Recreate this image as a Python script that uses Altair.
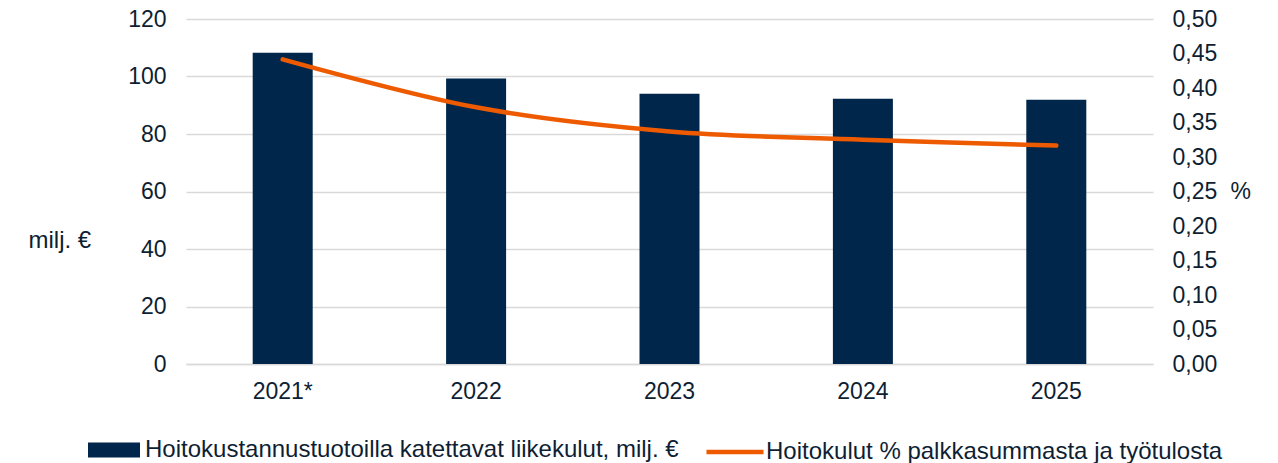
import altair as alt
import pandas as pd

years = ["2021*", "2022", "2023", "2024", "2025"]
costs = [108.3, 99.3, 94.0, 92.3, 91.9]
pct = [0.4415, 0.372, 0.337, 0.325, 0.3165]
left_ticks = [0, 20, 40, 60, 80, 100, 120]
right_ticks = [0.0, 0.05, 0.10, 0.15, 0.20, 0.25, 0.30, 0.35, 0.40, 0.45, 0.50]
bar_name = "Hoitokustannustuotoilla katettavat liikekulut, milj. €"
line_name = "Hoitokulut % palkkasummasta ja työtulosta"

navy = "#00264B"
orange = "#EE5A00"
txt = "#0E1E33"
grid = "#D9D9D9"
font = "Liberation Sans"

df = pd.DataFrame({
    "year": years,
    "cost": costs,
    "pct": pct,
    "bar_series": [bar_name] * len(years),
    "line_series": [line_name] * len(years),
})

base = alt.Chart(df).encode(
    x=alt.X(
        "year:N",
        sort=years,
        scale=alt.Scale(paddingInner=0, paddingOuter=0),
        axis=alt.Axis(
            title=None, labelAngle=0, labelFontSize=23, labelColor=txt,
            labelPadding=16, ticks=False, domainColor=grid, domainWidth=1.5,
            grid=False,
        ),
    )
)

bars = base.mark_bar(size=60).encode(
    y=alt.Y(
        "cost:Q",
        scale=alt.Scale(domain=[0, 120], nice=False),
        axis=alt.Axis(
            values=left_ticks, title="milj. €", titleAngle=0, titleAlign="left",
            titleBaseline="middle", titleX=-158, titleY=221, titleFontSize=24,
            titleFontWeight="normal", titleColor=txt,
            labelFontSize=23, labelColor=txt, labelPadding=20, ticks=False,
            domain=False, grid=True, gridColor=grid, gridWidth=1.5,
        ),
    ),
    color=alt.Color(
        "bar_series:N",
        scale=alt.Scale(domain=[bar_name], range=[navy]),
        legend=alt.Legend(
            title=None, orient="none", legendX=-98, legendY=405,
            symbolType="M-1,-0.29H1V0.29H-1Z", symbolSize=2704,
            symbolStrokeWidth=0, labelFontSize=24, labelColor=txt,
            labelOffset=5, labelLimit=1000,
        ),
    ),
)

line = base.mark_line(strokeWidth=4.5, strokeCap="round", interpolate="catmull-rom").encode(
    y=alt.Y(
        "pct:Q",
        scale=alt.Scale(domain=[0, 0.5], nice=False),
        axis=alt.Axis(
            orient="right", values=right_ticks,
            labelExpr="replace(format(datum.value, '.2f'), '.', ',')",
            title="%", titleAngle=0, titleAlign="left", titleBaseline="middle",
            titleX=77, titleY=172, titleFontSize=23, titleFontWeight="normal",
            titleColor=txt, labelFontSize=23, labelColor=txt, labelPadding=19,
            ticks=False, domain=False, grid=False,
        ),
    ),
    stroke=alt.Stroke(
        "line_series:N",
        scale=alt.Scale(domain=[line_name], range=[orange]),
        legend=alt.Legend(
            title=None, orient="none", legendX=518, legendY=402,
            symbolType="stroke", symbolSize=3249, symbolStrokeWidth=4.5,
            labelFontSize=24, labelColor=txt, labelOffset=0, labelLimit=1000,
        ),
    ),
)

chart = (
    alt.layer(bars, line)
    .resolve_scale(y="independent", color="independent", stroke="independent")
    .properties(
        width=967, height=345,
        autosize=alt.AutoSizeParams(type="none"),
        padding={"left": 178, "top": 11, "right": 110, "bottom": 100},
    )
    .configure_view(stroke=None)
    .configure_axis(labelFont=font, titleFont=font)
    .configure_legend(labelFont=font)
)

chart.save("out.html", embed_options={"renderer": "svg", "actions": False})
